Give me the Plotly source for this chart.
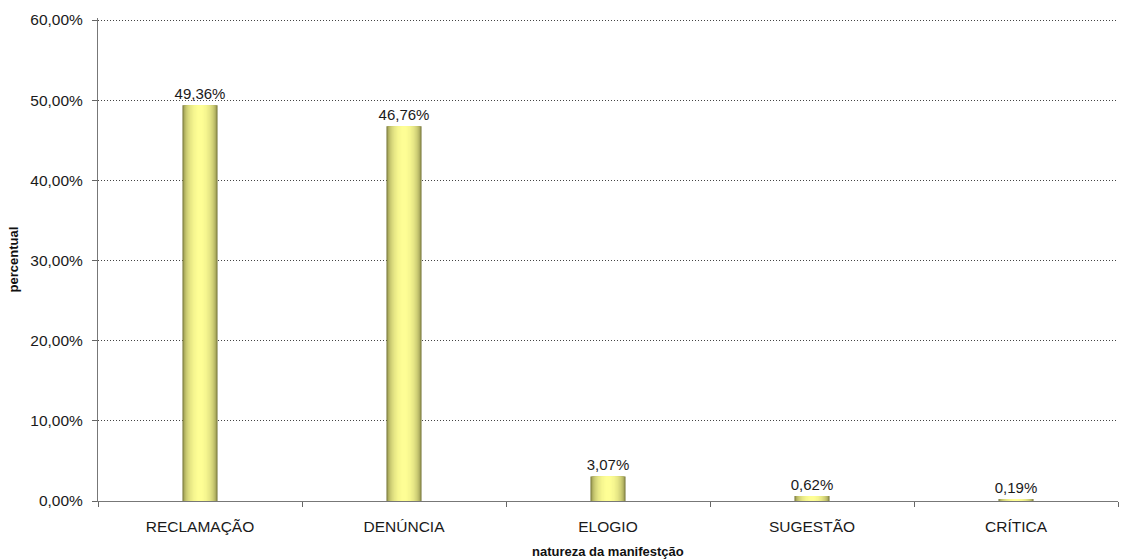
import plotly.graph_objects as go
import numpy as np

categories = ["RECLAMAÇÃO", "DENÚNCIA", "ELOGIO", "SUGESTÃO", "CRÍTICA"]
values = [49.36, 46.76, 3.07, 0.62, 0.19]
y_ticks = [0, 10, 20, 30, 40, 50, 60]
x_title = "natureza da manifestção"
y_title = "percentual"

FONT = "Liberation Sans, Arial, sans-serif"
fig = go.Figure()

full_w = 0.172
N = 18
edge = np.array([120, 120, 60])
center = np.array([255, 255, 150])
for i in range(N):
    f = 1 - i / N  # half-width fraction
    s = np.sqrt(max(0.0, 1 - f ** 2))
    c = edge + (center - edge) * s
    col = "rgb(%d,%d,%d)" % tuple(c.astype(int))
    fig.add_trace(go.Bar(
        x=categories, y=values, width=full_w * f,
        marker=dict(color=col, line=dict(width=0)),
        hoverinfo="skip", showlegend=False,
    ))

# value labels
fig.add_trace(go.Bar(
    x=categories, y=values, width=full_w,
    marker=dict(color="rgba(0,0,0,0)", line=dict(width=0)),
    texttemplate="%{y:.2f}%", textposition="outside", constraintext="none",
    textfont=dict(family=FONT, size=15, color="#1a1a1a"),
    cliponaxis=False, showlegend=False, hoverinfo="skip",
))

fig.update_layout(
    width=1121, height=559,
    barmode="overlay",
    separators=",.",
    plot_bgcolor="white", paper_bgcolor="white",
    margin=dict(l=98, r=3, t=18, b=58, autoexpand=False),
    font=dict(family=FONT, size=16, color="#1a1a1a"),
    xaxis=dict(
        type="category", tickson="boundaries", ticks="outside", ticklen=5,
        tickcolor="#666", showline=True, linecolor="#777", linewidth=1,
        showgrid=False, tickfont=dict(size=15.5), automargin=False,
        ticklabelstandoff=11,
    ),
    yaxis=dict(
        range=[0, 60.25], tickvals=y_ticks,
        ticktext=[("%.2f%%" % v).replace(".", ",") for v in y_ticks],
        ticks="outside", ticklen=5, tickcolor="#666",
        showline=True, linecolor="#777", linewidth=1,
        showgrid=True, gridcolor="#444", griddash="1px,2px", gridwidth=1,
        zeroline=False, tickfont=dict(size=15.5), automargin=False,
        ticklabelstandoff=6,
    ),
    annotations=[
        dict(text="<b>%s</b>" % x_title, xref="paper", yref="paper",
             x=0.5, y=0, yshift=-50, xanchor="center", yanchor="middle",
             showarrow=False, font=dict(size=13, family=FONT, color="#111")),
        dict(text="<b>%s</b>" % y_title, xref="paper", yref="paper",
             x=0, y=0.5, xshift=-85, xanchor="center", yanchor="middle",
             textangle=-90, showarrow=False,
             font=dict(size=13, family=FONT, color="#111")),
    ],
)

fig.write_html("out.html", config={"displayModeBar": False},
               post_script="document.body.style.margin='0';")
